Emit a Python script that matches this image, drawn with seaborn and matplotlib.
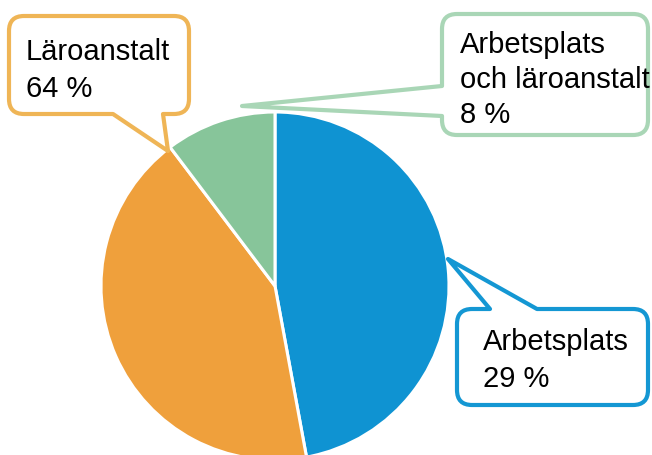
import matplotlib
matplotlib.use("Agg")
import matplotlib.pyplot as plt
from matplotlib.path import Path
from matplotlib.patches import PathPatch
from matplotlib.transforms import Affine2D
import seaborn as sns

# ---- data (slice shares as drawn; label texts as printed) ----
categories = ["Arbetsplats", "Läroanstalt", "Arbetsplats\noch läroanstalt"]
shares = [47.1, 42.6, 10.3]
pct_labels = ["29 %", "64 %", "8 %"]
slice_colors = ["#0F93D2", "#EFA03C", "#87C59A"]
box_colors = ["#1497D3", "#EFB556", "#A9D6B6"]

sns.set_theme(style="white")
plt.rcParams["font.family"] = ["Liberation Sans", "DejaVu Sans"]

W, H = 652, 456
fig = plt.figure(figsize=(W / 100, H / 100), dpi=100)
fig.patch.set_facecolor("white")

# pie axes: centre (275, 287) px, radius 174 px
cx, cy, r = 275, 287, 174
ax = fig.add_axes([(cx - r) / W, (H - cy - r) / H, 2 * r / W, 2 * r / H])
ax.pie(shares, colors=slice_colors, startangle=90, counterclock=False,
       wedgeprops=dict(edgecolor="white", linewidth=2.2))
ax.set_xlim(-1, 1)
ax.set_ylim(-1, 1)
ax.set_aspect("equal")
ax.axis("off")

# pixel transform (origin top-left)
px = Affine2D().scale(1 / W, -1 / H).translate(0, 1) + fig.transFigure


def bubble(x0, y0, x1, y1, rad, edge, t0, t1, tip):
    verts, codes = [], []

    def mv(p):
        verts.append(p); codes.append(Path.MOVETO)

    def ln(p):
        verts.append(p); codes.append(Path.LINETO)

    def cv(c, p):
        verts.extend([c, p]); codes.extend([Path.CURVE3, Path.CURVE3])

    mv((x0 + rad, y0))
    if edge == "top":
        ln((t0, y0)); ln(tip); ln((t1, y0))
    ln((x1 - rad, y0)); cv((x1, y0), (x1, y0 + rad))
    ln((x1, y1 - rad)); cv((x1, y1), (x1 - rad, y1))
    if edge == "bottom":
        ln((t1, y1)); ln(tip); ln((t0, y1))
    ln((x0 + rad, y1)); cv((x0, y1), (x0, y1 - rad))
    if edge == "left":
        ln((x0, t1)); ln(tip); ln((x0, t0))
    ln((x0, y0 + rad)); cv((x0, y0), (x0 + rad, y0))
    verts.append((x0 + rad, y0)); codes.append(Path.CLOSEPOLY)
    return Path(verts, codes)


callouts = [
    # box (x0, y0, x1, y1), tail edge, tail span, tip, text origin
    dict(box=(457, 310, 648, 406), edge="top", t=(490, 537), tip=(448, 260),
         text=(483, 350), step=37),
    dict(box=(9, 17, 189, 115), edge="bottom", t=(113, 163), tip=(168, 152),
         text=(26, 60), step=37),
    dict(box=(442, 15, 648, 136), edge="left", t=(87, 117), tip=(242, 107),
         text=(460, 53), step=35),
]

for i, c in enumerate(callouts):
    x0, y0, x1, y1 = c["box"]
    p = bubble(x0, y0, x1, y1, 15, c["edge"], c["t"][0], c["t"][1], c["tip"])
    fig.patches.append(PathPatch(p, transform=px, facecolor="white",
                                 edgecolor=box_colors[i], linewidth=3.0,
                                 joinstyle="round", capstyle="round"))
    lines = categories[i].split("\n") + [pct_labels[i]]
    tx, ty = c["text"]
    for k, line in enumerate(lines):
        fig.text(tx, ty + k * c["step"], line, transform=px, fontsize=21,
                 color="black", ha="left", va="baseline")

fig.savefig("out.png", dpi=100, facecolor="white")
